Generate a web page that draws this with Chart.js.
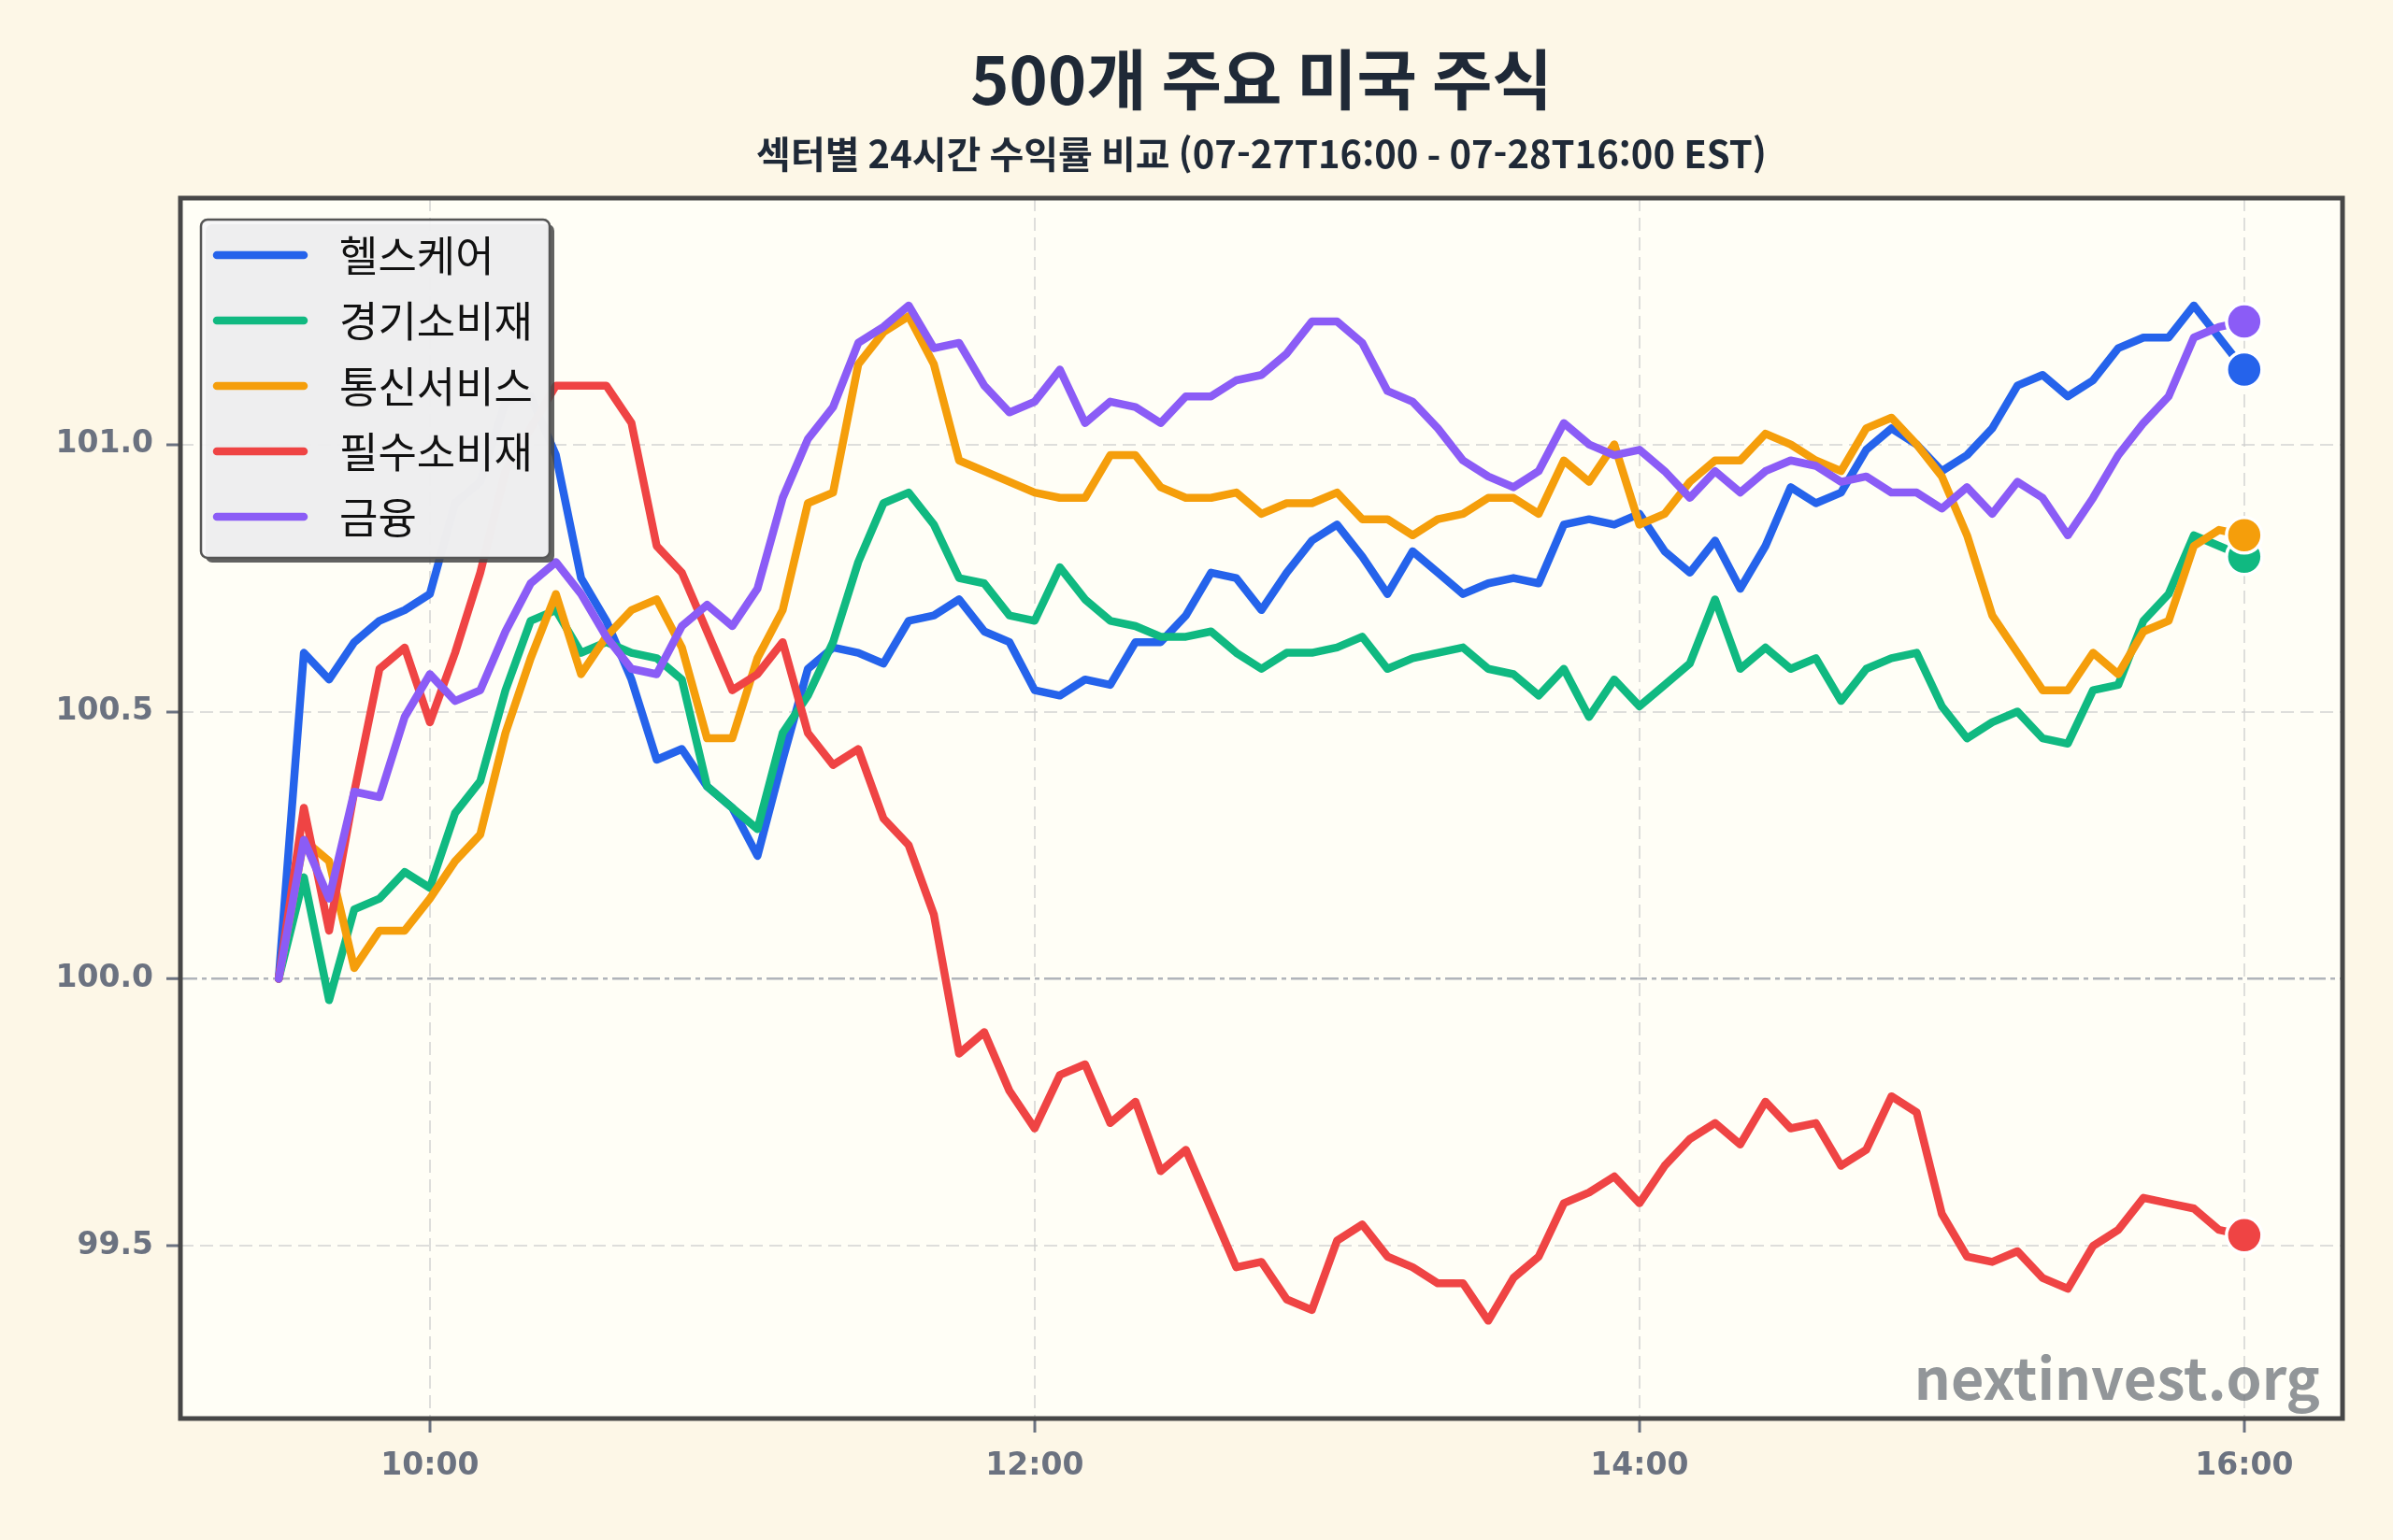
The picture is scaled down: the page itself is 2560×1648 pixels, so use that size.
<!DOCTYPE html>
<html lang="ko">
<head>
<meta charset="utf-8">
<title>500개 주요 미국 주식</title>
<script src="https://cdn.jsdelivr.net/npm/chart.js@4.4.0/dist/chart.umd.min.js"></script>
<style>
  html, body { margin: 0; padding: 0; background: #fdf7e7; }
  #chartWrap { width: 2560px; height: 1648px; }
</style>
</head>
<body>
<div id="chartWrap"><canvas id="sectorChart" width="2560" height="1648"></canvas></div>
<script>
// 5-minute timestamps, 09:30 - 16:00 EST
const times = [
  '09:30', '09:35', '09:40', '09:45', '09:50', '09:55',
  '10:00', '10:05', '10:10', '10:15', '10:20', '10:25', '10:30', '10:35', '10:40', '10:45', '10:50', '10:55',
  '11:00', '11:05', '11:10', '11:15', '11:20', '11:25', '11:30', '11:35', '11:40', '11:45', '11:50', '11:55',
  '12:00', '12:05', '12:10', '12:15', '12:20', '12:25', '12:30', '12:35', '12:40', '12:45', '12:50', '12:55',
  '13:00', '13:05', '13:10', '13:15', '13:20', '13:25', '13:30', '13:35', '13:40', '13:45', '13:50', '13:55',
  '14:00', '14:05', '14:10', '14:15', '14:20', '14:25', '14:30', '14:35', '14:40', '14:45', '14:50', '14:55',
  '15:00', '15:05', '15:10', '15:15', '15:20', '15:25', '15:30', '15:35', '15:40', '15:45', '15:50', '15:55',
  '16:00'
];

// normalized to 100 at the open
const healthcare = [
  100.00, 100.61, 100.56, 100.63, 100.67, 100.69,
  100.72, 100.89, 100.93, 101.08, 101.09, 100.98, 100.75, 100.67, 100.56, 100.41, 100.43, 100.36,
  100.32, 100.23, 100.41, 100.58, 100.62, 100.61, 100.59, 100.67, 100.68, 100.71, 100.65, 100.63,
  100.54, 100.53, 100.56, 100.55, 100.63, 100.63, 100.68, 100.76, 100.75, 100.69, 100.76, 100.82,
  100.85, 100.79, 100.72, 100.80, 100.76, 100.72, 100.74, 100.75, 100.74, 100.85, 100.86, 100.85,
  100.87, 100.80, 100.76, 100.82, 100.73, 100.81, 100.92, 100.89, 100.91, 100.99, 101.03, 101.00,
  100.95, 100.98, 101.03, 101.11, 101.13, 101.09, 101.12, 101.18, 101.20, 101.20, 101.26, 101.20,
  101.14
];
const consumerDisc = [
  100.00, 100.19, 99.96, 100.13, 100.15, 100.20,
  100.17, 100.31, 100.37, 100.54, 100.67, 100.69, 100.61, 100.63, 100.61, 100.60, 100.56, 100.36,
  100.32, 100.28, 100.46, 100.53, 100.63, 100.78, 100.89, 100.91, 100.85, 100.75, 100.74, 100.68,
  100.67, 100.77, 100.71, 100.67, 100.66, 100.64, 100.64, 100.65, 100.61, 100.58, 100.61, 100.61,
  100.62, 100.64, 100.58, 100.60, 100.61, 100.62, 100.58, 100.57, 100.53, 100.58, 100.49, 100.56,
  100.51, 100.55, 100.59, 100.71, 100.58, 100.62, 100.58, 100.60, 100.52, 100.58, 100.60, 100.61,
  100.51, 100.45, 100.48, 100.50, 100.45, 100.44, 100.54, 100.55, 100.67, 100.72, 100.83, 100.81,
  100.79
];
const commServices = [
  100.00, 100.26, 100.22, 100.02, 100.09, 100.09,
  100.15, 100.22, 100.27, 100.46, 100.60, 100.72, 100.57, 100.64, 100.69, 100.71, 100.62, 100.45,
  100.45, 100.60, 100.69, 100.89, 100.91, 101.15, 101.21, 101.24, 101.15, 100.97, 100.95, 100.93,
  100.91, 100.90, 100.90, 100.98, 100.98, 100.92, 100.90, 100.90, 100.91, 100.87, 100.89, 100.89,
  100.91, 100.86, 100.86, 100.83, 100.86, 100.87, 100.90, 100.90, 100.87, 100.97, 100.93, 101.00,
  100.85, 100.87, 100.93, 100.97, 100.97, 101.02, 101.00, 100.97, 100.95, 101.03, 101.05, 101.00,
  100.94, 100.83, 100.68, 100.61, 100.54, 100.54, 100.61, 100.57, 100.65, 100.67, 100.81, 100.84,
  100.83
];
const consumerStaples = [
  100.00, 100.32, 100.09, 100.35, 100.58, 100.62,
  100.48, 100.61, 100.76, 100.95, 101.03, 101.11, 101.11, 101.11, 101.04, 100.81, 100.76, 100.65,
  100.54, 100.57, 100.63, 100.46, 100.40, 100.43, 100.30, 100.25, 100.12, 99.86, 99.90, 99.79,
  99.72, 99.82, 99.84, 99.73, 99.77, 99.64, 99.68, 99.57, 99.46, 99.47, 99.40, 99.38,
  99.51, 99.54, 99.48, 99.46, 99.43, 99.43, 99.36, 99.44, 99.48, 99.58, 99.60, 99.63,
  99.58, 99.65, 99.70, 99.73, 99.69, 99.77, 99.72, 99.73, 99.65, 99.68, 99.78, 99.75,
  99.56, 99.48, 99.47, 99.49, 99.44, 99.42, 99.50, 99.53, 99.59, 99.58, 99.57, 99.53,
  99.52
];
const financials = [
  100.00, 100.26, 100.15, 100.35, 100.34, 100.49,
  100.57, 100.52, 100.54, 100.65, 100.74, 100.78, 100.72, 100.64, 100.58, 100.57, 100.66, 100.70,
  100.66, 100.73, 100.90, 101.01, 101.07, 101.19, 101.22, 101.26, 101.18, 101.19, 101.11, 101.06,
  101.08, 101.14, 101.04, 101.08, 101.07, 101.04, 101.09, 101.09, 101.12, 101.13, 101.17, 101.23,
  101.23, 101.19, 101.10, 101.08, 101.03, 100.97, 100.94, 100.92, 100.95, 101.04, 101.00, 100.98,
  100.99, 100.95, 100.90, 100.95, 100.91, 100.95, 100.97, 100.96, 100.93, 100.94, 100.91, 100.91,
  100.88, 100.92, 100.87, 100.93, 100.90, 100.83, 100.90, 100.98, 101.04, 101.09, 101.20, 101.22,
  101.23
];

const sectorNames = ['헬스케어', '경기소비재', '통신서비스', '필수소비재', '금융'];
const sectorColors = ['#2563eb', '#10b981', '#f59e0b', '#ef4444', '#8b5cf6'];
const xTickLabels = ['10:00', '12:00', '14:00', '16:00'];
const yTickValues = [99.5, 100.0, 100.5, 101.0];

const toMinutes = t => {
  const [h, m] = t.split(':').map(Number);
  return h * 60 + m;
};

const seriesList = [healthcare, consumerDisc, commServices, consumerStaples, financials];
const lastIndex = times.length - 1;
const LINE_W = 8.5;

const datasets = seriesList.map((series, k) => ({
  label: sectorNames[k],
  data: series.map((v, i) => ({ x: toMinutes(times[i]), y: v })),
  borderColor: sectorColors[k],
  backgroundColor: sectorColors[k],
  borderWidth: LINE_W,
  borderJoinStyle: 'round',
  borderCapStyle: 'round',
  tension: 0,
  order: seriesList.length - 1 - k,
  pointRadius: ctx => (ctx.dataIndex === lastIndex ? 19 : 0),
  pointHoverRadius: ctx => (ctx.dataIndex === lastIndex ? 19 : 0),
  pointBackgroundColor: sectorColors[k],
  pointBorderColor: '#ffffff',
  pointBorderWidth: 3.5
}));

// x range padded like the original (5% each side)
const xSpan = toMinutes(times[lastIndex]) - toMinutes(times[0]);
const xMin = toMinutes(times[0]) - xSpan * 0.05;
const xMax = toMinutes(times[lastIndex]) + xSpan * 0.05;

// backgrounds
const backgroundPlugin = {
  id: 'backgrounds',
  beforeDraw(chart) {
    const { ctx, chartArea } = chart;
    ctx.save();
    ctx.fillStyle = '#fdf7e7';
    ctx.fillRect(0, 0, chart.width, chart.height);
    ctx.fillStyle = '#fffef6';
    ctx.fillRect(chartArea.left, chartArea.top, chartArea.right - chartArea.left, chartArea.bottom - chartArea.top);
    ctx.restore();
  }
};

// watermark + legend box inside the plot
const overlayPlugin = {
  id: 'overlay',
  afterDatasetsDraw(chart) {
    const { ctx, chartArea } = chart;
    ctx.save();

    // watermark
    ctx.font = 'bold 61px "Noto Sans CJK KR", "Noto Sans", sans-serif';
    ctx.fillStyle = 'rgba(110, 115, 122, 0.75)';
    ctx.textAlign = 'right';
    ctx.textBaseline = 'alphabetic';
    ctx.fillText('nextinvest.org', chartArea.right - 24, chartArea.bottom - 20);

    // legend
    const x = chartArea.left + 22, y = chartArea.top + 23, w = 373, h = 362, r = 7;
    ctx.fillStyle = 'rgba(70, 70, 70, 0.85)';
    ctx.beginPath();
    ctx.roundRect(x + 5, y + 5, w, h, r);
    ctx.fill();
    ctx.fillStyle = 'rgba(246, 246, 248, 0.94)';
    ctx.strokeStyle = '#555555';
    ctx.lineWidth = 2.5;
    ctx.beginPath();
    ctx.roundRect(x, y, w, h, r);
    ctx.fill();
    ctx.stroke();

    ctx.font = '45px "Noto Sans CJK KR", sans-serif';
    ctx.textAlign = 'left';
    ctx.textBaseline = 'middle';
    chart.data.datasets.forEach((ds, k) => {
      const rowY = y + 38 + k * 70;
      ctx.strokeStyle = ds.borderColor;
      ctx.lineWidth = LINE_W;
      ctx.lineCap = 'round';
      ctx.beginPath();
      ctx.moveTo(x + 17, rowY);
      ctx.lineTo(x + 110, rowY);
      ctx.stroke();
      ctx.fillStyle = '#111111';
      ctx.fillText(ds.label, x + 148, rowY + 1);
    });
    ctx.restore();
  },
  afterDraw(chart) {
    const { ctx, chartArea } = chart;
    ctx.save();
    ctx.strokeStyle = '#474747';
    ctx.lineWidth = 5;
    ctx.strokeRect(chartArea.left, chartArea.top, chartArea.right - chartArea.left, chartArea.bottom - chartArea.top);
    ctx.restore();
  }
};

Chart.defaults.font.family = '"DejaVu Sans", sans-serif';

new Chart(document.getElementById('sectorChart').getContext('2d'), {
  type: 'line',
  data: { datasets },
  options: {
    responsive: false,
    devicePixelRatio: 1,
    animation: false,
    events: [],
    layout: { padding: { top: 0, right: 54, bottom: 0, left: 0 } },
    plugins: {
      legend: { display: false },
      tooltip: { enabled: false },
      title: {
        display: true,
        text: '500개 주요 미국 주식',
        fullSize: false,
        color: '#1f2937',
        font: { family: '"Noto Sans CJK KR", sans-serif', size: 70, weight: 'bold', lineHeight: 1.2 },
        padding: { top: 43, bottom: 14 }
      },
      subtitle: {
        display: true,
        text: '섹터별 24시간 수익률 비교 (07-27T16:00 - 07-28T16:00 EST)',
        fullSize: false,
        color: '#1f2937',
        font: { family: '"Noto Sans CJK KR", sans-serif', size: 40, weight: 'bold', lineHeight: 1.2 },
        padding: { top: 0, bottom: 23 }
      }
    },
    scales: {
      x: {
        type: 'linear',
        min: xMin,
        max: xMax,
        afterBuildTicks: axis => {
          axis.ticks = xTickLabels.map(t => ({ value: toMinutes(t) }));
        },
        afterFit: axis => { axis.height = 130; },
        ticks: {
          color: '#6b7280',
          font: { size: 33, weight: 'bold' },
          padding: 17,
          maxRotation: 0,
          callback: v => xTickLabels.find(t => toMinutes(t) === v) || ''
        },
        grid: {
          color: 'rgba(205, 205, 205, 0.65)',
          lineWidth: 2,
          drawTicks: true,
          tickLength: 15,
          tickColor: '#6b7280',
          tickWidth: 3
        },
        border: { display: false, dash: [14, 7] }
      },
      y: {
        min: 99.177,
        max: 101.461,
        afterBuildTicks: axis => {
          axis.ticks = yTickValues.map(v => ({ value: v }));
        },
        afterFit: axis => { axis.width = 193; },
        ticks: {
          color: '#6b7280',
          font: { size: 33, weight: 'bold' },
          padding: 14,
          callback: v => Number(v).toFixed(1)
        },
        grid: {
          color: ctx => (ctx.tick && ctx.tick.value === 100 ? 'rgba(150, 155, 165, 0.75)' : 'rgba(205, 205, 205, 0.65)'),
          lineWidth: ctx => (ctx.tick && ctx.tick.value === 100 ? 2.5 : 2),
          drawTicks: true,
          tickLength: 15,
          tickColor: '#6b7280',
          tickWidth: 3
        },
        border: {
          display: false,
          dash: ctx => (ctx.tick && ctx.tick.value === 100 ? [18, 5, 5, 5] : [14, 7])
        }
      }
    }
  },
  plugins: [backgroundPlugin, overlayPlugin]
});
</script>
</body>
</html>
